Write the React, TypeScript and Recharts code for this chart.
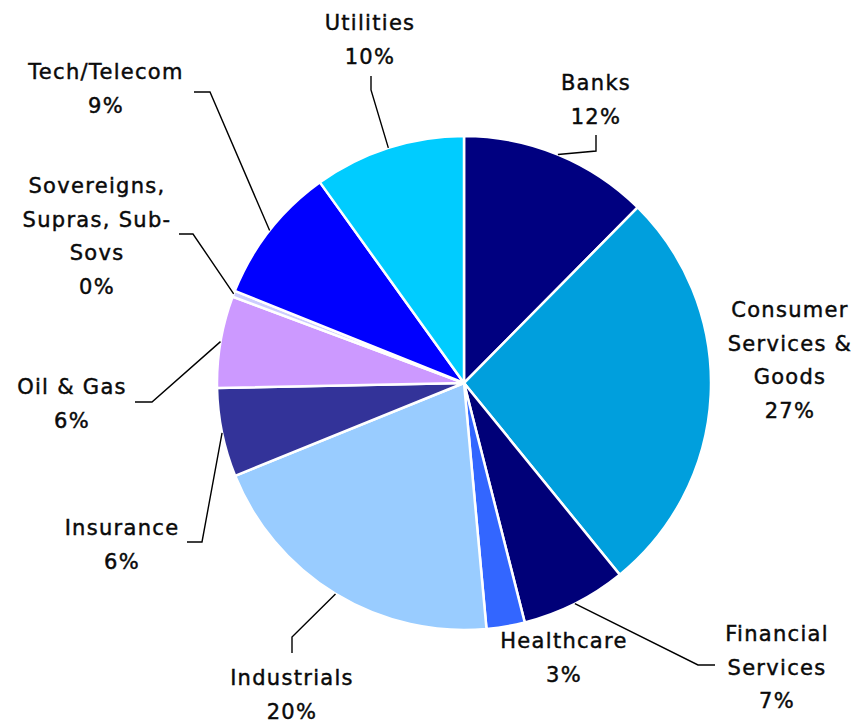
import { PieChart, Pie, Cell } from 'recharts'

const W = 857
const H = 720

const sectors = [
  'Banks',
  'Consumer\nServices &\nGoods',
  'Financial\nServices',
  'Healthcare',
  'Industrials',
  'Insurance',
  'Oil & Gas',
  'Sovereigns,\nSupras, Sub-\nSovs',
  'Tech/Telecom',
  'Utilities',
]
const shares = [12.4, 26.7, 6.9, 2.5, 20.3, 5.8, 6.0, 0.4, 9.0, 9.9]
const colors = ['#000080', '#009FDD', '#000078', '#3366FF', '#99CCFF', '#333399', '#CC99FF', '#CCCCFF', '#0000FF', '#00CCFF']

// label placement, offsets from the pie centre: text x / first baseline, leader elbow and end
const labelPos = [
  { x: 132, y: -293, elbow: [132, -232], end: [132, -248] },
  { x: 326, y: -66 },
  { x: 313, y: 258, elbow: [234, 282], end: [251, 282] },
  { x: 100, y: 265 },
  { x: -172, y: 302, elbow: [-172, 254], end: [-172, 270] },
  { x: -342, y: 152, elbow: [-262, 159], end: [-277, 159] },
  { x: -392, y: 11, elbow: [-312, 19], end: [-329, 19] },
  { x: -367, y: -190, elbow: [-271, -149], end: [-285, -149] },
  { x: -358, y: -304, elbow: [-254, -291], end: [-270, -291] },
  { x: -94, y: -353, elbow: [-93, -293], end: [-93, -307] },
]

const data = sectors.map((name, i) => ({ name, value: shares[i] }))

const RAD = Math.PI / 180
const LINE_H = 33.5

function renderLabel(props: any) {
  const { cx, cy, midAngle, outerRadius, index, value, name } = props
  const p = labelPos[index]
  const lines = [...String(name).split('\n'), `${Math.round(value)}%`]
  const sx = cx + outerRadius * Math.cos(-midAngle * RAD)
  const sy = cy + outerRadius * Math.sin(-midAngle * RAD)
  return (
    <g key={`lbl-${index}`}>
      {p.elbow && (
        <polyline
          points={`${sx},${sy} ${cx + p.elbow[0]},${cy + p.elbow[1]} ${cx + p.end![0]},${cy + p.end![1]}`}
          fill="none"
          stroke="#000"
          strokeWidth={1.4}
        />
      )}
      <text
        x={cx + p.x}
        y={cy + p.y}
        textAnchor="middle"
        fill="#0a0a0a"
        stroke="#0a0a0a"
        strokeWidth={0.45}
        style={{ fontFamily: '"DejaVu Sans", sans-serif', fontSize: 21, letterSpacing: 1.3 }}
      >
        {lines.map((l, i) => (
          <tspan key={i} x={cx + p.x} dy={i === 0 ? 0 : LINE_H}>{l}</tspan>
        ))}
      </text>
    </g>
  )
}

export default function App() {
  return (
    <div style={{ position: 'absolute', left: 0, top: 0, width: W, height: H, background: '#fff' }}>
      <PieChart width={W} height={H} margin={{ top: 0, right: 0, bottom: 0, left: 0 }}>
        <Pie
          data={data}
          dataKey="value"
          nameKey="name"
          cx={464}
          cy={383}
          outerRadius={247}
          startAngle={90}
          endAngle={-270}
          stroke="#fff"
          strokeWidth={2.5}
          label={renderLabel}
          labelLine={false}
          isAnimationActive={false}
        >
          {data.map((d, i) => <Cell key={i} fill={colors[i]} />)}
        </Pie>
      </PieChart>
    </div>
  )
}
